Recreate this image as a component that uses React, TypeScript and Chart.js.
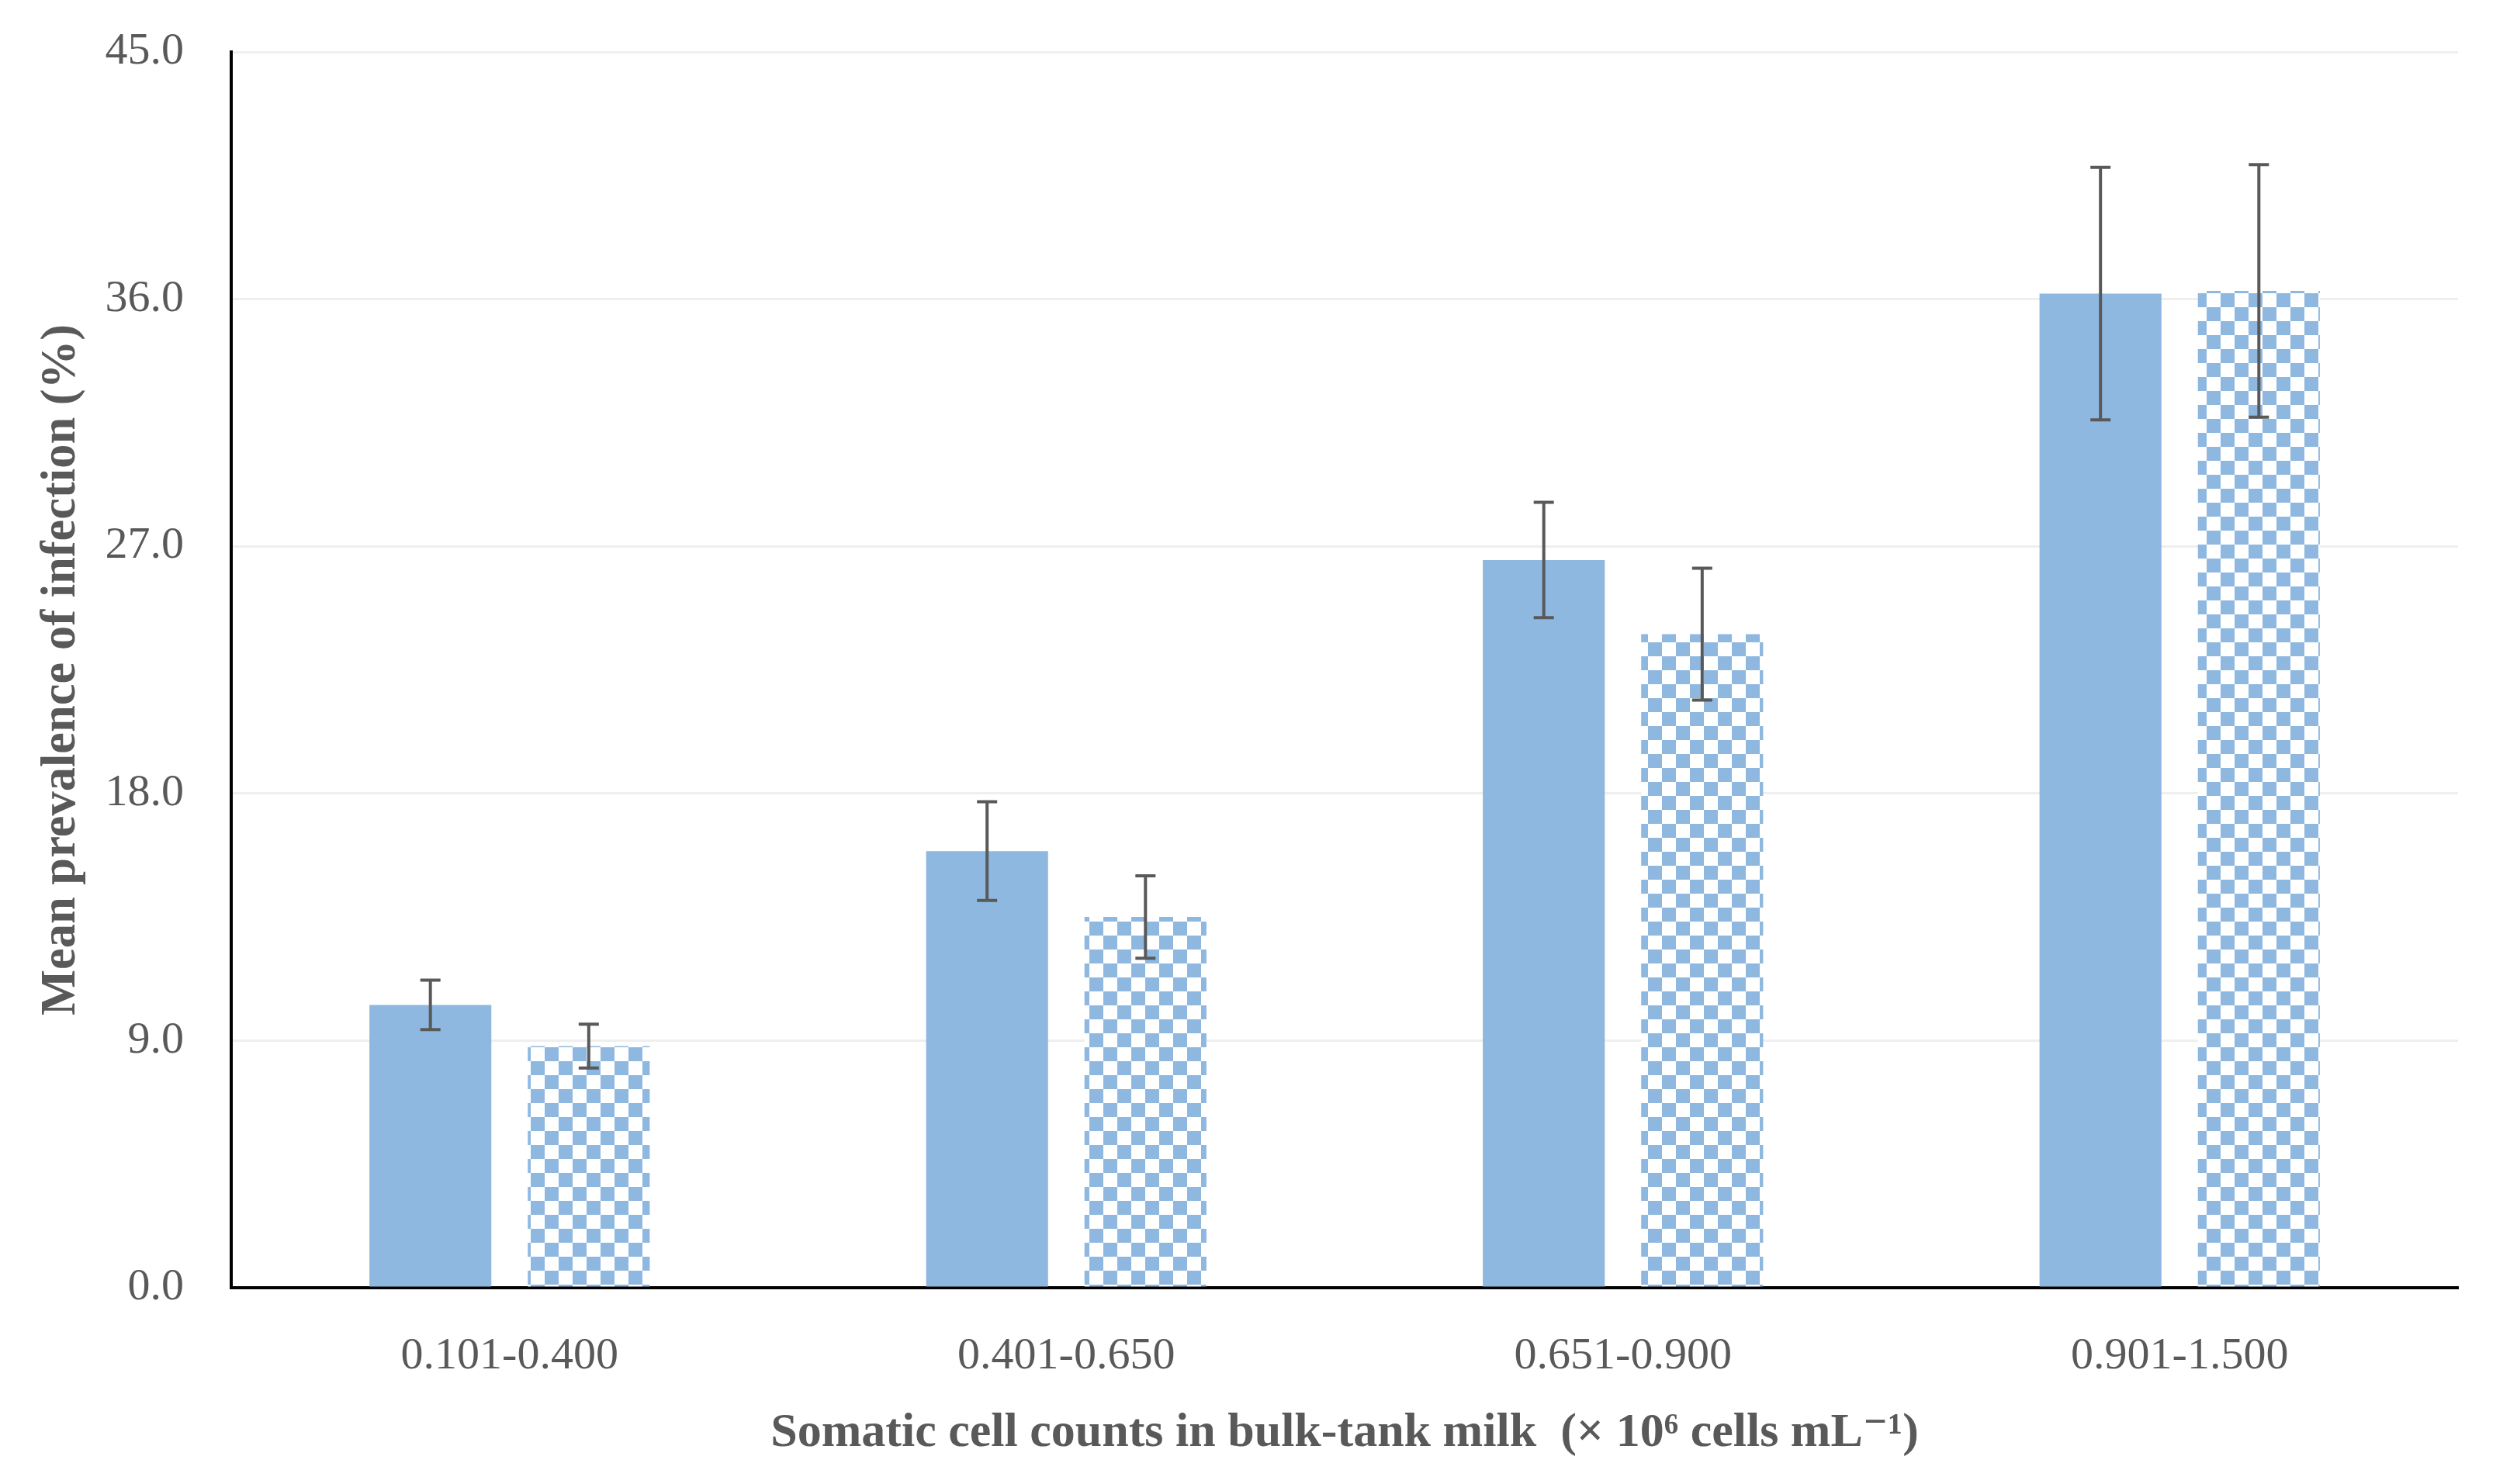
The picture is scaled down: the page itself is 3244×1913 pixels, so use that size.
import React, { useEffect, useRef } from 'react';
import { Chart, registerables } from 'chart.js';

Chart.register(...registerables);

const categories = ['0.101-0.400', '0.401-0.650', '0.651-0.900', '0.901-1.500'];
const solidValues = [10.3, 15.9, 26.5, 36.2];
const solidErrors = [0.9, 1.8, 2.1, 4.6];
const checkValues = [8.8, 13.5, 23.8, 36.3];
const checkErrors = [0.8, 1.5, 2.4, 4.6];
const yMin = 0;
const yMax = 45;
const yStep = 9;
const yTitle = 'Mean prevalence of infection (%)';
const xTitle = 'Somatic cell counts in bulk-tank milk  (× 10⁶ cells mL⁻¹)';

const BLUE = '#8EB8E0';
const TEXT = '#595959';
const FONT = '"Liberation Serif", "DejaVu Serif", serif';

function makeChecker(): CanvasPattern | string {
  const s = 18;
  const c = document.createElement('canvas');
  c.width = s * 2;
  c.height = s * 2;
  const g = c.getContext('2d');
  if (!g) return BLUE;
  g.fillStyle = '#FFFFFF';
  g.fillRect(0, 0, s * 2, s * 2);
  g.fillStyle = BLUE;
  g.fillRect(0, 0, s, s);
  g.fillRect(s, s, s, s);
  const p = g.createPattern(c, 'repeat');
  return p || BLUE;
}

const errorSets = [solidErrors, checkErrors];

const errorBarPlugin = {
  id: 'errorBars',
  afterDatasetsDraw(chart: any) {
    const ctx = chart.ctx;
    const y = chart.scales.y;
    chart.data.datasets.forEach((ds: any, i: number) => {
      const meta = chart.getDatasetMeta(i);
      const errs = errorSets[i];
      meta.data.forEach((bar: any, j: number) => {
        const v = ds.data[j] as number;
        const e = errs[j];
        const yt = y.getPixelForValue(v + e);
        const yb = y.getPixelForValue(v - e);
        const cap = 13;
        ctx.save();
        ctx.strokeStyle = TEXT;
        ctx.lineWidth = 4;
        ctx.beginPath();
        ctx.moveTo(bar.x, yt);
        ctx.lineTo(bar.x, yb);
        ctx.moveTo(bar.x - cap, yt);
        ctx.lineTo(bar.x + cap, yt);
        ctx.moveTo(bar.x - cap, yb);
        ctx.lineTo(bar.x + cap, yb);
        ctx.stroke();
        ctx.restore();
      });
    });
  },
};

export default function App() {
  const ref = useRef<HTMLCanvasElement | null>(null);

  useEffect(() => {
    document.body.style.margin = '0';
    const canvas = ref.current;
    if (!canvas) return;
    const checker = makeChecker();
    const chart = new Chart(canvas, {
      type: 'bar',
      data: {
        labels: categories,
        datasets: [
          {
            label: 'Series 1',
            data: solidValues,
            backgroundColor: BLUE,
            borderWidth: 0,
            barPercentage: 0.77,
            categoryPercentage: 0.569,
          },
          {
            label: 'Series 2',
            data: checkValues,
            backgroundColor: checker as any,
            borderWidth: 0,
            barPercentage: 0.77,
            categoryPercentage: 0.569,
          },
        ],
      },
      options: {
        animation: false,
        responsive: true,
        maintainAspectRatio: false,
        layout: { padding: { left: 0, right: 76, top: 67, bottom: 0 } },
        plugins: {
          legend: { display: false },
          tooltip: { enabled: false },
        },
        scales: {
          x: {
            afterFit: (s: any) => {
              s.height = 253;
            },
            grid: { display: false },
            border: { color: '#000000', width: 4 },
            ticks: {
              color: TEXT,
              font: { family: FONT, size: 58 },
              padding: 46,
            },
            title: {
              display: true,
              text: xTitle,
              color: TEXT,
              font: { family: FONT, size: 62, weight: 'bold' },
              padding: { top: 0, bottom: 28 },
            },
          },
          y: {
            min: yMin,
            max: yMax,
            afterFit: (s: any) => {
              s.width = 298;
            },
            grid: {
              color: '#EFEFEF',
              lineWidth: 3,
              drawTicks: true,
              tickLength: 61,
              tickColor: 'rgba(0,0,0,0)',
            },
            border: { color: '#000000', width: 4 },
            ticks: {
              stepSize: yStep,
              color: TEXT,
              font: { family: FONT, size: 58 },
              padding: 0,
              callback: (v: any) => Number(v).toFixed(1),
            },
            title: {
              display: true,
              text: yTitle,
              color: TEXT,
              font: { family: FONT, size: 62.5, weight: 'bold' },
              padding: { top: 42, bottom: 0 },
            },
          },
        },
      },
      plugins: [errorBarPlugin],
    });
    return () => chart.destroy();
  }, []);

  return (
    <div style={{ position: 'absolute', left: 0, top: 0, width: 3244, height: 1913, background: '#FFFFFF' }}>
      <canvas ref={ref} />
    </div>
  );
}
